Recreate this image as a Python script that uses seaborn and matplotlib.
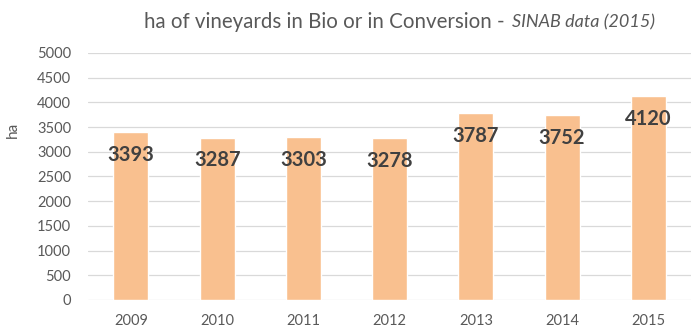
import matplotlib
matplotlib.use("Agg")
import matplotlib.pyplot as plt
import seaborn as sns
import pandas as pd

years = ["2009", "2010", "2011", "2012", "2013", "2014", "2015"]
hectares = [3393, 3287, 3303, 3278, 3787, 3752, 4120]
yticks = [0, 500, 1000, 1500, 2000, 2500, 3000, 3500, 4000, 4500, 5000]

df = pd.DataFrame({"year": years, "ha": hectares})

sns.set_theme(style="white")
plt.rcParams["font.family"] = ["Lato", "DejaVu Sans"]

fig = plt.figure(figsize=(6.97, 3.35), dpi=100)
ax = fig.add_axes([0.126, 0.1045, 0.866, 0.7375])

sns.barplot(data=df, x="year", y="ha", color="#F9C08F", saturation=1,
            width=0.405, ax=ax, zorder=3)

ax.set_ylim(0, 5000)
ax.set_xlim(-0.5, 6.5)
ax.set_yticks(yticks)
ax.set_yticklabels([str(t) for t in yticks])
ax.grid(axis="y", color="#D9D9D9", linewidth=0.9, zorder=0)
ax.set_axisbelow(True)
for s in ax.spines.values():
    s.set_visible(False)
ax.tick_params(axis="both", length=0, labelsize=10.5, labelcolor="#595959")
ax.tick_params(axis="x", pad=10)
ax.tick_params(axis="y", pad=12)
ax.set_xlabel("")
ax.set_ylabel("ha", color="#595959", fontsize=11)
ax.yaxis.set_label_coords(-0.112, 0.69)

for i, v in enumerate(hectares):
    ax.annotate(str(v), xy=(i, v), xytext=(0, -16.5), textcoords="offset points",
                ha="center", va="center", fontsize=14.5, fontweight="bold",
                color="#404040", zorder=5)

fig.text(0.732, 0.934, "ha of vineyards in Bio or in Conversion - ", ha="right",
         va="center", fontsize=14.8, color="#595959")
fig.text(0.734, 0.934, "SINAB data (2015)", ha="left", va="center",
         fontsize=13, style="italic", color="#595959")

fig.savefig("out.png", dpi=100)
